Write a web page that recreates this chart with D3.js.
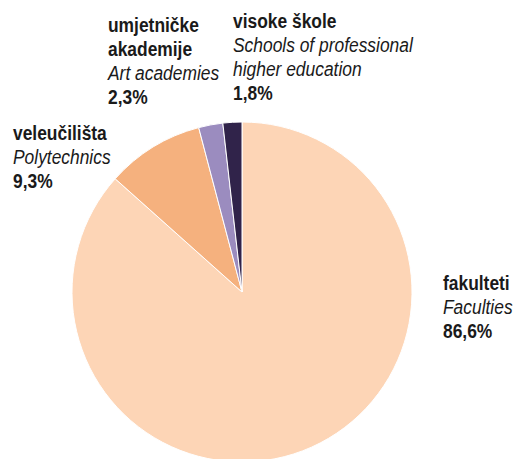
<!DOCTYPE html>
<html>
<head>
<meta charset="utf-8">
<script src="https://cdn.jsdelivr.net/npm/d3@7"></script>
<style>
  body { margin: 0; background: #fff; }
  svg { display: block; }
</style>
</head>
<body>
<div id="chart"></div>
<script>
// data
var names = ['fakulteti', 'veleučilišta', 'umjetničke akademije', 'visoke škole'];
var namesHr = [['fakulteti'], ['veleučilišta'], ['umjetničke', 'akademije'], ['visoke škole']];
var namesEn = [['Faculties'], ['Polytechnics'], ['Art academies'], ['Schools of professional', 'higher education']];
var shares = [86.6, 9.3, 2.3, 1.8];
var colors = ['#fdd5b6', '#f5b17e', '#9b8cbf', '#30234a'];

var width = 515, height = 459;
var cx = 242, cy = 292, radius = 170;
var lineH = 24;
var fontSize = 20;
var squeeze = 0.87; // condensed look

// where each label block starts (x, baseline of first line)
var labelPos = [[443, 290], [13, 140], [108, 32], [233, 28]];

var svg = d3.select('#chart').append('svg')
    .attr('width', width)
    .attr('height', height);

var pie = d3.pie()
    .sort(null)
    .value(function(d) { return d; });

var arc = d3.arc()
    .innerRadius(0)
    .outerRadius(radius);

var gPie = svg.append('g')
    .attr('transform', `translate(${cx}, ${cy})`);

gPie.selectAll('path')
    .data(pie(shares))
    .enter().append('path')
    .attr('d', arc)
    .style('fill', function(d, i) { return colors[i]; })
    .style('stroke', '#fff')
    .style('stroke-width', 1);

// labels
var fmt = function(v) { return String(v).replace('.', ',') + '%'; };

names.forEach(function(n, i) {
    var g = svg.append('g')
        .attr('transform', `translate(${labelPos[i][0]}, ${labelPos[i][1]}) scale(${squeeze}, 1)`);
    var lines = [];
    namesHr[i].forEach(function(t) { lines.push({ text: t, style: 'bold' }); });
    namesEn[i].forEach(function(t) { lines.push({ text: t, style: 'italic' }); });
    lines.push({ text: fmt(shares[i]), style: 'bold' });

    g.selectAll('text')
        .data(lines)
        .enter().append('text')
        .attr('x', 0)
        .attr('y', function(d, j) { return j * lineH; })
        .text(function(d) { return d.text; })
        .attr('font-family', '"Liberation Sans", Arial, sans-serif')
        .attr('font-size', fontSize + 'px')
        .attr('font-weight', function(d) { return d.style == 'bold' ? 'bold' : 'normal'; })
        .attr('font-style', function(d) { return d.style == 'italic' ? 'italic' : 'normal'; })
        .attr('fill', '#1a1a1a');
});
</script>
</body>
</html>
